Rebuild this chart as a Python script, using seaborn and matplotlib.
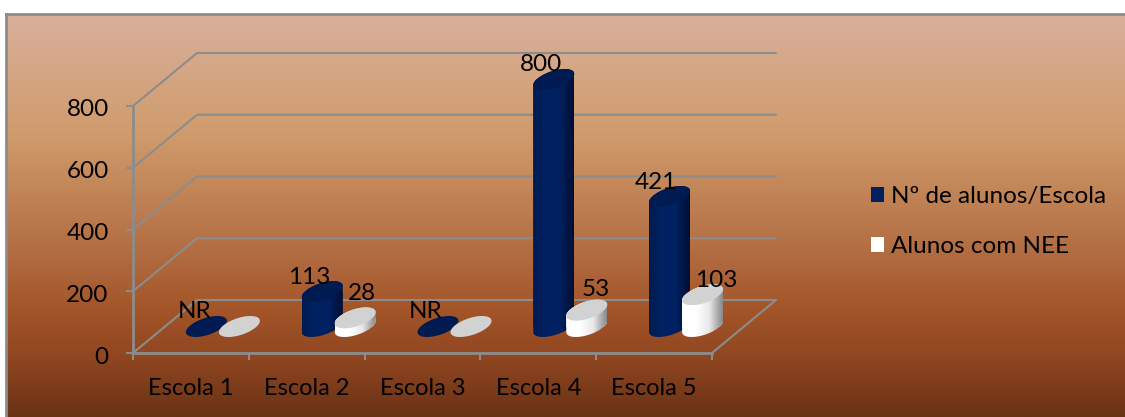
import numpy as np
import pandas as pd
import matplotlib
matplotlib.use("Agg")
import matplotlib.pyplot as plt
from matplotlib.colors import LinearSegmentedColormap
from matplotlib.patches import Patch, Polygon
from matplotlib.transforms import Affine2D, IdentityTransform
import seaborn as sns

# ---- data ----
escolas = ["Escola 1", "Escola 2", "Escola 3", "Escola 4", "Escola 5"]
alunos = [0, 113, 0, 800, 421]
nee = [0, 28, 0, 53, 103]
alunos_labels = ["NR", "113", "NR", "800", "421"]
nee_labels = ["", "28", "", "53", "103"]
series_names = ["Nº de alunos/Escola", "Alunos com NEE"]
y_ticks = [0, 200, 400, 600, 800]

# ---- style ----
W, H = 1125, 417
sns.set_theme(style="white")
plt.rcParams["font.family"] = ["Lato", "DejaVu Sans"]
GRAY = "#8c8c8c"
FS = 17.5
DEPTH_X, DEPTH_Y = 64, 53
HALF_W, HALF_H, SHEAR_B = 20.5, 10.5, 11.0
SHEAR_A = np.sqrt(HALF_W**2 - SHEAR_B**2)
alunos_offsets = [(-12, 15), (-13, 14), (-12, 15), (-13, 15), (-14, 14)]
nee_offsets = [(0, 0), (7, 24), (0, 0), (8.5, 21), (14, 14)]

fig = plt.figure(figsize=(W / 100, H / 100), dpi=100, facecolor="white")

# background panel with vertical gradient
bg = fig.add_axes([6 / W, 0, 1 - 6 / W, (H - 14) / H], zorder=0)
cmap = LinearSegmentedColormap.from_list(
    "bg",
    [(0.0, "#d9b09b"), (0.30, "#d09b6c"), (0.57, "#b47045"), (0.74, "#a35428"),
     (0.86, "#8e4520"), (1.0, "#693215")],
)
bg.imshow(np.linspace(0, 1, 256)[:, None], cmap=cmap, aspect="auto", vmin=0, vmax=1)
bg.set_xticks([]); bg.set_yticks([])
for name, sp in bg.spines.items():
    sp.set_visible(name in ("left", "top"))
    sp.set_color(GRAY); sp.set_linewidth(2)

# front plane of the chart
ax = fig.add_axes([133 / W, (H - 353) / H, 579 / W, 247 / H], zorder=1)
ax.patch.set_alpha(0)
df = pd.DataFrame({
    "escola": escolas * 2,
    "valor": alunos + nee,
    "serie": [series_names[0]] * 5 + [series_names[1]] * 5,
})
sns.barplot(data=df, x="escola", y="valor", hue="serie", order=escolas,
            palette=["#002060", "#ffffff"], width=0.57, gap=0, legend=False,
            errorbar=None, ax=ax, linewidth=0)
XL, YL = (-0.5, 4.5), (0, 800)


def fix_limits():
    ax.set_xlim(*XL)
    ax.set_ylim(*YL)


fix_limits()
ax.set_xlabel(""); ax.set_ylabel("")
ax.set_yticks(y_ticks)
ax.set_xticks(range(5))
ax.set_xticks(np.arange(-0.5, 5, 1), minor=True)
ax.tick_params(axis="x", which="major", length=0, pad=18, labelsize=FS - 0.5, labelcolor="black")
ax.tick_params(axis="x", which="minor", length=5, width=1.5, color=GRAY, bottom=True)
ax.tick_params(axis="y", length=5, width=1.5, color=GRAY, left=True, pad=12.5,
               labelsize=FS, labelcolor="black")
for lab in ax.get_yticklabels():
    lab.set_transform(lab.get_transform() + Affine2D().translate(0, -2))
for name, sp in ax.spines.items():
    sp.set_visible(name in ("left", "bottom"))
    sp.set_color(GRAY); sp.set_linewidth(2)

# side walls / back wall grid
for v in y_ticks:
    x0, y0 = ax.transData.transform((XL[0], v))
    x1, _ = ax.transData.transform((XL[1], v))
    ax.plot([x0, x0 + DEPTH_X, x1 + DEPTH_X], [y0, y0 + DEPTH_Y, y0 + DEPTH_Y],
            transform=IdentityTransform(), color=GRAY, lw=1.5, clip_on=False, zorder=1)
xr, yr = ax.transData.transform((XL[1], 0))
ax.plot([xr, xr + DEPTH_X], [yr, yr + DEPTH_Y], transform=IdentityTransform(),
        color=GRAY, lw=1.5, clip_on=False, zorder=1)
fix_limits()

blue_side = LinearSegmentedColormap.from_list("b", ["#001b50", "#002263", "#002060", "#000f30"])
white_side = LinearSegmentedColormap.from_list("w", ["#ffffff", "#ffffff", "#e8e8e8", "#8a8a8a"])
tops = ["#001b52", "#d2d2d2"]
sides = [blue_side, white_side]


def ellipse_pts(cx, cy, t):
    return np.column_stack([cx + SHEAR_A * np.cos(t) + SHEAR_B * np.sin(t),
                            cy + HALF_H * np.sin(t)])


t_right = np.arctan2(SHEAR_B, SHEAR_A)     # rightmost point of the ellipse
lower = np.linspace(t_right + np.pi, t_right + 2 * np.pi, 60)
upper = np.linspace(t_right, t_right + np.pi, 60)
full = np.linspace(0, 2 * np.pi, 120)

bars = list(ax.patches)[:10]
depth = Affine2D().translate(DEPTH_X / 2, DEPTH_Y / 2)
z = 3.0
for cat in range(5):
    for s in range(2):
        bar = bars[s * 5 + cat]
        center = bar.get_x() + bar.get_width() / 2
        value = bar.get_height()
        cx, y_base = depth.transform(ax.transData.transform((center, 0)))
        _, y_top = depth.transform(ax.transData.transform((center, value)))
        # widen the bar to the cylinder diameter, keep it in the depth plane
        data_w = 2 * HALF_W * (XL[1] - XL[0]) / 579
        bar.set_x(center - data_w / 2)
        bar.set_width(data_w)
        bar.set_transform(ax.transData + depth)
        bar.set_zorder(z)
        if value > 0:
            hull = Polygon(np.vstack([ellipse_pts(cx, y_base, lower),
                                      ellipse_pts(cx, y_top, upper)]),
                           closed=True, transform=IdentityTransform())
            bar.set_clip_box(fig.bbox)
            bar.set_clip_path(hull)
            im = ax.imshow(np.linspace(0, 1, 64)[None, :], cmap=sides[s], aspect="auto",
                           extent=(cx - HALF_W, cx + HALF_W, y_base - HALF_H, y_top + HALF_H),
                           transform=IdentityTransform(), zorder=z + 0.1,
                           interpolation="bilinear")
            im.set_clip_box(fig.bbox)
            im.set_clip_path(hull)
            fix_limits()
        else:
            bar.set_visible(False)
        ax.add_patch(Polygon(ellipse_pts(cx, y_top, full), closed=True,
                             transform=IdentityTransform(), facecolor=tops[s],
                             edgecolor="none", clip_on=False, zorder=z + 0.2))
        labels = (alunos_labels, nee_labels)[s][cat]
        off = (alunos_offsets, nee_offsets)[s][cat]
        if labels:
            ax.text(cx + off[0], y_top + off[1], labels, transform=IdentityTransform(),
                    ha="center", va="center", fontsize=FS, color="black",
                    clip_on=False, zorder=20)
        z += 1
fix_limits()

# legend
handles = [Patch(facecolor="#002060", edgecolor="none", label=series_names[0]),
           Patch(facecolor="#ffffff", edgecolor="none", label=series_names[1])]
fig.legend(handles=handles, loc="upper left", bbox_to_anchor=(871 / W, (H - 186) / H),
           frameon=False, fontsize=FS, handlelength=0.52, handleheight=0.6,
           handletextpad=0.3, labelspacing=1.2, borderpad=0, borderaxespad=0,
           labelcolor="black")

fig.savefig("out.png", dpi=100)
